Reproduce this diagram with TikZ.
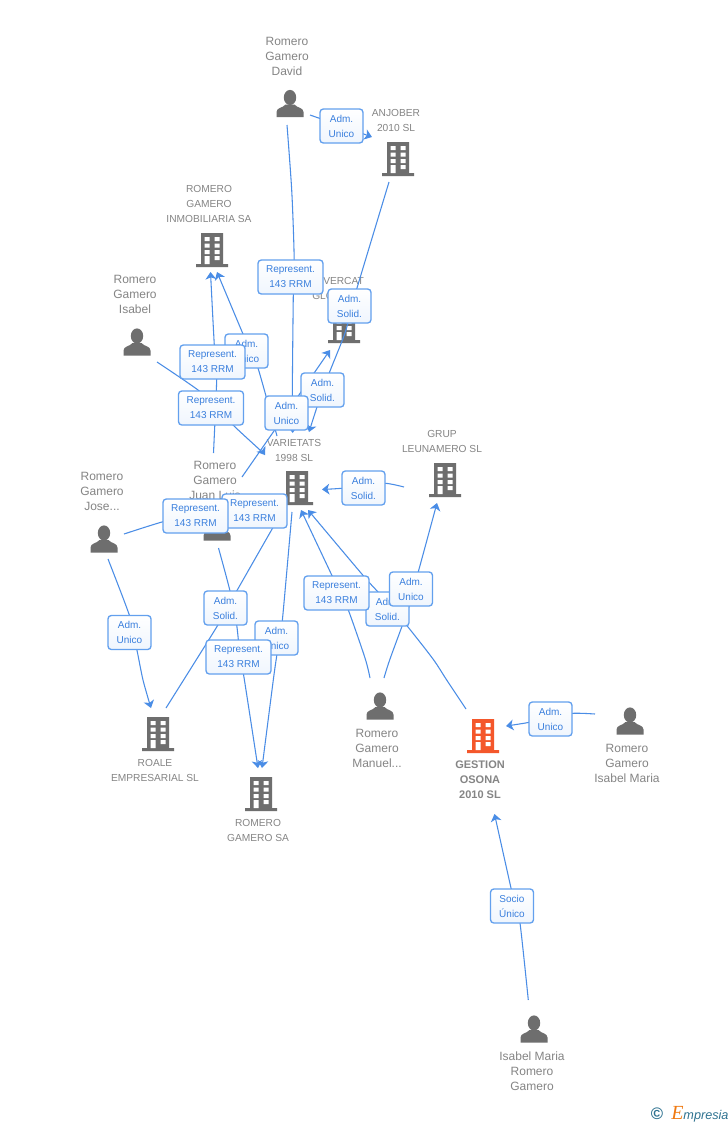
\documentclass[tikz,border=0pt]{standalone}
\usepackage{fontspec}
\setmainfont{Liberation Sans}
\usetikzlibrary{arrows.meta}
\pgfdeclarelayer{base}\pgfdeclarelayer{edges}
\pgfsetlayers{base,edges,main}
\definecolor{iconG}{HTML}{6E6E6E}
\definecolor{txtG}{HTML}{858585}
\definecolor{lineB}{HTML}{4A8DE6}
\definecolor{boxB}{HTML}{63A0EE}
\definecolor{boxT}{HTML}{3A7FDD}
\definecolor{orangeB}{HTML}{F4572B}
\definecolor{logoB}{HTML}{2F7391}
\definecolor{logoO}{HTML}{F07A12}
\tikzset{
  bldg/.style={minimum width=24pt,minimum height=25.5pt,inner sep=0pt,
    path picture={\begin{scope}[x=.75pt,y=-.75pt,shift={(path picture bounding box.center)}]
      \fill[#1] (-11,-17) rectangle (11,14) (-16,14) rectangle (16,17);
      \fill[white] (-7.3,-13) rectangle (-2.3,-9) (2.7,-13) rectangle (7.7,-9)
        (-7.3,-6.5) rectangle (-2.3,-2.5) (2.7,-6.5) rectangle (7.7,-2.5)
        (-7.3,0) rectangle (-2.3,4) (2.7,0) rectangle (7.7,4)
        (-7.3,6) rectangle (-2.3,14) (2.7,6) rectangle (7.7,10);
    \end{scope}}},
  person/.style={minimum width=21pt,minimum height=21pt,inner sep=0pt,
    path picture={\begin{scope}[x=.75pt,y=-.75pt,shift={(path picture bounding box.center)}]
      \fill[iconG] (0,-6) ellipse (6.2 and 7.6);
      \fill[iconG] (-13.5,13.5) -- (-13.5,8.5) .. controls (-13.5,4) and (-7,4.5) .. (-4.5,1)
        -- (4.5,1) .. controls (7,4.5) and (13.5,4) .. (13.5,8.5) -- (13.5,13.5) -- cycle;
    \end{scope}}},
  ptext/.style={text=txtG,align=center,font=\fontsize{9}{11.25}\selectfont,inner sep=0pt},
  ctext/.style={text=txtG,align=center,font=\fontsize{7.65}{11.25}\selectfont,inner sep=0pt},
  mtext/.style={text=txtG,align=center,font=\bfseries\fontsize{8.25}{11.25}\selectfont,inner sep=0pt},
  lbl/.style={draw=boxB,line width=1pt,rounded corners=2.5pt,top color=white,bottom color=white!90!boxB,
    text=boxT,align=center,font=\fontsize{7.5}{11.25}\selectfont,inner sep=0pt,
    minimum width=32.25pt,minimum height=25.5pt,
    execute at begin node={\rule{0pt}{8.5pt}}},
  lblw/.style={lbl,minimum width=48.75pt},
  conn/.style={draw=lineB,line width=.8pt},
  arr/.style={conn,-{Stealth[length=5.5pt,width=8pt,inset=1.5pt]}},
}
\begin{document}
\begin{tikzpicture}[x=.75pt,y=-.75pt]
\useasboundingbox (0,0) rectangle (728,1125);
\begin{pgfonlayer}{base}
\fill[white] (0,0) rectangle (728,1125);
\node[person] (david) at (290,103.5) {};
\node[ptext] (tdavid) at (287,56) {Romero\\Gamero\\David};
\node[bldg=iconG] (anjober) at (398,159) {};
\node[ctext] (tanjober) at (396,120.5) {ANJOBER\\2010 SL};
\node[bldg=iconG] (inmob) at (212,250) {};
\node[ctext] (tinmob) at (209,204) {ROMERO\\GAMERO\\INMOBILIARIA SA};
\node[person] (isabel) at (137,342) {};
\node[ptext] (tisabel) at (135,294) {Romero\\Gamero\\Isabel};
\node[bldg=iconG] (vercat) at (344,326) {};
\node[ctext,align=left,anchor=west] (tvercat) at (312,288.5) {\hspace*{8.25pt}VERCAT\\GLO};
\node[bldg=iconG] (varietats) at (297,488) {};
\node[ctext] (tvarietats) at (294,450.5) {VARIETATS\\1998 SL};
\node[bldg=iconG] (grup) at (445,480) {};
\node[ctext] (tgrup) at (442,441.5) {GRUP\\LEUNAMERO SL};
\node[person] (juan) at (217,527) {};
\node[ptext] (tjuan) at (215,480) {Romero\\Gamero\\Juan Luis};
\node[person] (jose) at (104,539) {};
\node[ptext] (tjose) at (102,491) {Romero\\Gamero\\Jose...};
\node[bldg=iconG] (roale) at (158,734) {};
\node[ctext] (troale) at (155,770.5) {ROALE\\EMPRESARIAL SL};
\node[bldg=iconG] (rgsa) at (261,794) {};
\node[ctext] (trgsa) at (258,830.5) {ROMERO\\GAMERO SA};
\node[person] (manuel) at (380,706) {};
\node[ptext] (tmanuel) at (377,748) {Romero\\Gamero\\Manuel...};
\node[bldg=orangeB] (gestion) at (483,736) {};
\node[mtext] (tgestion) at (480,780) {GESTION\\OSONA\\2010 SL};
\node[person] (imaria) at (630,721) {};
\node[ptext] (timaria) at (627,763) {Romero\\Gamero\\Isabel Maria};
\node[person] (imrg) at (534,1029) {};
\node[ptext] (timrg) at (532,1071) {Isabel Maria\\Romero\\Gamero};
\node[text=logoB,font=\bfseries\fontsize{12.5}{13}\selectfont,inner sep=0pt] (copy) at (657,1114) {©};
\node[inner sep=0pt,anchor=west] (logo) at (671,1114) {\textcolor{logoO}{\fontsize{15}{15}\selectfont\fontspec{Liberation Serif}\itshape E}\textcolor{logoB}{\fontsize{9.5}{10}\selectfont\itshape mpresia}};
\end{pgfonlayer}
% free ends
\coordinate (a1) at (287,125);
\coordinate (a2) at (292.7,433);
\coordinate (b1) at (310,115);
\coordinate (b2) at (372,137);
\coordinate (c1) at (389,182);
\coordinate (c2) at (309,432);
\coordinate (d1) at (242,477);
\coordinate (d2) at (330,350);
\coordinate (e1) at (277,436);
\coordinate (e2) at (217,272);
\coordinate (f1) at (213.5,453);
\coordinate (f2) at (210.5,272);
\coordinate (g1) at (157,362);
\coordinate (g2) at (265,455);
\coordinate (h1) at (124,534);
\coordinate (h2) at (266,498);
\coordinate (i1) at (108,559);
\coordinate (i2) at (151,708);
\coordinate (j1) at (166,708);
\coordinate (j2) at (282,513);
\coordinate (k1) at (218.5,548);
\coordinate (k2) at (258,768);
\coordinate (l1) at (292,512);
\coordinate (l2) at (262,768);
\coordinate (m1) at (370,678);
\coordinate (m2) at (301,510);
\coordinate (n1) at (466,709);
\coordinate (n2) at (308,510);
\coordinate (o1) at (384,678);
\coordinate (o2) at (437,503);
\coordinate (p1) at (404,487);
\coordinate (p2) at (322,489.5);
\coordinate (q1) at (595,714);
\coordinate (q2) at (506,726);
\coordinate (r1) at (528.3,1000);
\coordinate (r2) at (494.5,814);
% labels, painted in stacking order
\node[lbl] (au3) at (246.5,351) {Adm.\\Unico};
\node[lblw] (rep2) at (212.5,362) {Represent.\\143 RRM};
\node[lblw] (rep3) at (211,408) {Represent.\\143 RRM};
\node[lblw] (rep1) at (290.5,277) {Represent.\\143 RRM};
\node[lbl] (as1) at (349.5,306) {Adm.\\Solid.};
\node[lbl] (as2) at (322.5,390) {Adm.\\Solid.};
\node[lbl] (au2) at (286.5,413) {Adm.\\Unico};
\node[lbl] (au1) at (341.5,126) {Adm.\\Unico};
\node[lblw] (rep5) at (254.5,511) {Represent.\\143 RRM};
\node[lblw] (rep4) at (195.5,516) {Represent.\\143 RRM};
\node[lbl] (as5) at (363.5,488) {Adm.\\Solid.};
\node[lbl] (au4) at (129.5,632.5) {Adm.\\Unico};
\node[lbl] (as3) at (225.5,608) {Adm.\\Solid.};
\node[lbl] (au5) at (276.5,638) {Adm.\\Unico};
\node[lblw] (rep6) at (238.5,657) {Represent.\\143 RRM};
\node[lbl] (as4) at (387.5,609) {Adm.\\Solid.};
\node[lblw] (rep7) at (336.5,593) {Represent.\\143 RRM};
\node[lbl] (au6) at (411,589) {Adm.\\Unico};
\node[lbl] (au7) at (550.5,719) {Adm.\\Unico};
\node[lbl] (su) at (512,906) {Socio\\Único};
% where each connector crosses its label
\coordinate (a0) at ([xshift=2.5pt]rep1.center);
\coordinate (c0) at ([xshift=1.9pt]as1.center);
\coordinate (c3) at ([xshift=.4pt]as2.center);
\coordinate (e0) at ([xshift=3pt]au3.center);
\coordinate (f0) at ([xshift=2.6pt]rep2.center);
\coordinate (g0) at ([xshift=5pt]rep3.center);
\coordinate (h0) at ([yshift=1.5pt]rep4.center);
\coordinate (i0) at ([xshift=1.9pt]au4.center);
\coordinate (j0) at ([xshift=1.1pt]as3.center);
\coordinate (k0) at ([xshift=1.1pt]rep6.center);
\coordinate (l0) at ([xshift=2.2pt]au5.center);
\coordinate (m0) at ([xshift=2.6pt]rep7.center);
\coordinate (n0) at ([xshift=4pt]as4.center);
\coordinate (o0) at ([xshift=1.5pt]au6.center);
\coordinate (p0) at ([yshift=1.5pt]as5.center);
\coordinate (q0) at ([yshift=1.5pt]au7.center);
\coordinate (r0) at ([xshift=2.6pt]su.center);
\begin{pgfonlayer}{edges}
\draw[arr] plot[smooth] coordinates {(a1) (291.7,190) (294,250) (a0) (293.3,295) (292.3,395) (a2)};
\draw[arr] (b1) -- (au1.center) -- (b2);
\draw[arr] plot[smooth] coordinates {(c1) (357,288) (c0) (345,333) (330,371) (c3) (317,407) (c2)};
\draw[arr] (d1) -- (au2.center) -- (d2);
\draw[arr] plot[smooth] coordinates {(e1) (258,368) (e0) (243,334) (e2)};
\draw[arr] plot[smooth] coordinates {(f1) (216.7,380) (f0) (214.3,345) (f2)};
\draw[arr] plot[smooth] coordinates {(g1) (198,390) (g0) (233,425) (260,450) (g2)};
\draw[arr] plot[smooth] coordinates {(h1) (162,522) (h0) (228,507) (h2)};
\draw[arr] plot[smooth] coordinates {(i1) (129.3,615) (i0) (136.7,649) (143,680) (i2)};
\draw[conn] plot[smooth] coordinates {(j1) (216.7,627) (j0) (236.7,591) (272.7,528) (j2)};
\draw[arr] plot[smooth] coordinates {(k1) (230,591) (236.7,625) (k0) (243.3,673) (k2)};
\draw[arr] plot[smooth] coordinates {(l1) (282.3,621) (l0) (276.7,656) (273.3,680) (l2)};
\draw[arr] plot[smooth] coordinates {(m1) (365,658) (348.3,610) (m0) (331.7,575) (m2)};
\draw[arr] plot[smooth] coordinates {(n1) (446.7,680) (433,659) (408,627) (n0) (378,592) (362.7,575) (n2)};
\draw[arr] plot[smooth] coordinates {(o1) (390,659) (409,606.7) (o0) (418.3,571.7) (o2)};
\draw[arr] plot[smooth] coordinates {(p1) (385,483.3) (p0) (341.7,488.3) (p2)};
\draw[arr] plot[smooth] coordinates {(q1) (572.7,713.3) (q0) (529.3,722.3) (q2)};
\draw[arr] plot[smooth] coordinates {(r1) (520,923) (r0) (511,888) (r2)};
\end{pgfonlayer}
\end{tikzpicture}
\end{document}
